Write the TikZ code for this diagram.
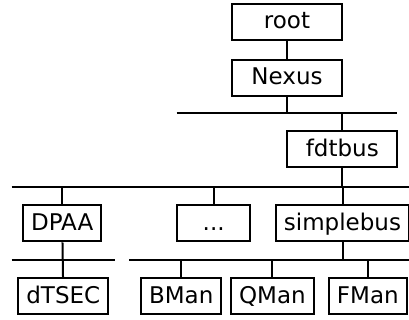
\documentclass[tikz,border=0pt]{standalone}
\usepackage{fontspec}
\setmainfont{DejaVu Sans}
\usetikzlibrary{positioning}
\tikzset{x=1pt, y=1pt,
node distance=18pt, % Gap between stacked boxes
every path/.style={line width=2pt},
dev/.style={ % A device in the tree
draw, line width=2pt,
minimum height=36pt,
inner xsep=8pt, inner ysep=0pt,
text height=17.5pt, text depth=4pt, % Same baseline in every box
font=\fontsize{23}{26}\selectfont},
wide/.style={minimum width=110pt}}

\begin{document}
\begin{tikzpicture}
    \useasboundingbox (0,0) rectangle (409,320);

    % top of the tree
    \node[dev, wide] (root) at (287,298.3) {root};
    \node[dev, wide, below=of root] (nexus) {Nexus};
    \node[dev, wide] (fdtbus) at (342.3,170.7) {fdtbus};

    % second row
    \node[dev] (dpaa) at (62.2,96.7) {DPAA};
    \node[dev, minimum width=73pt] (dots) at (213.7,96.7) {...};
    \node[dev] (simplebus) at (342.5,96.7) {simplebus};

    % bottom row
    \node[dev] (dtsec) at (63.3,23.7) {dTSEC};
    \node[dev] (bman) at (181.2,23.7) {BMan};
    \node[dev] (qman) at (272.4,23.7) {QMan};
    \node[dev] (fman) at (367.8,23.7) {FMan};

    % bus lines
    \coordinate (busa-w) at (176.7,206.7);
    \coordinate (busa-e) at (397.3,206.7);
    \coordinate (busb-w) at (11.7,133.3);
    \coordinate (busb-e) at (409,133.3);
    \coordinate (busc-w) at (11.7,60);
    \coordinate (busc-e) at (115,60);
    \coordinate (busd-w) at (129.3,60);
    \coordinate (busd-e) at (409,60);
    \draw (busa-w) -- (busa-e);
    \draw (busb-w) -- (busb-e);
    \draw (busc-w) -- (busc-e);
    \draw (busd-w) -- (busd-e);

    % taps
    \draw (root) -- (nexus);
    \draw (nexus) -- (nexus |- busa-w);
    \draw (fdtbus) -- (fdtbus |- busa-w);
    \draw (fdtbus) -- (fdtbus |- busb-w);
    \draw (dpaa) -- (dpaa |- busb-w);
    \draw (dots) -- (dots |- busb-w);
    \draw (simplebus) -- (simplebus |- busb-w);
    \draw (dpaa) -- (dtsec);
    \draw (simplebus) -- (simplebus |- busd-w);
    \draw (bman) -- (bman |- busd-w);
    \draw (qman) -- (qman |- busd-w);
    \draw (fman) -- (fman |- busd-w);

\end{tikzpicture}
\end{document}
